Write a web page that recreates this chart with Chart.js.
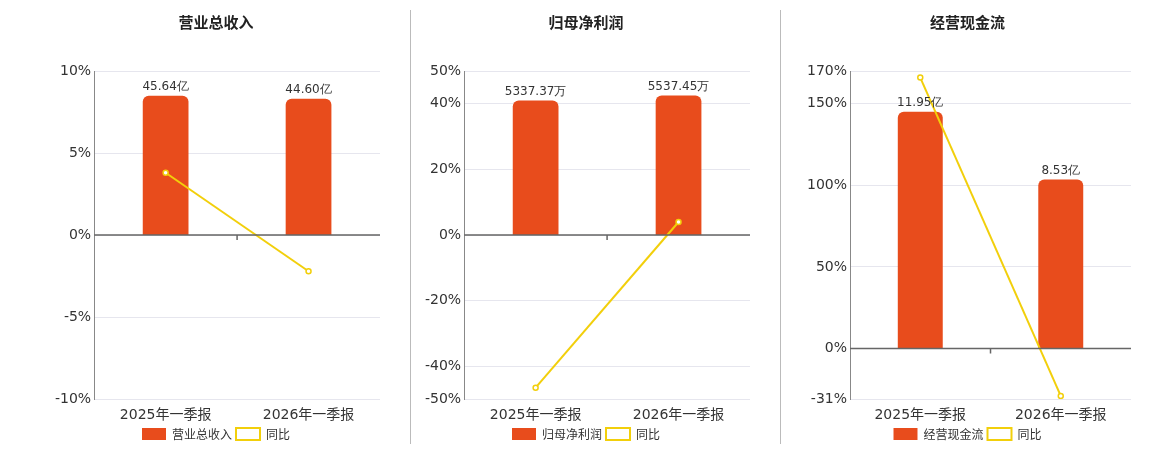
<!DOCTYPE html>
<html><head><meta charset="utf-8">
<script src="https://cdn.jsdelivr.net/npm/chart.js@4/dist/chart.umd.min.js"></script>
<style>
body{margin:0;background:#fff;font-family:"Noto Sans CJK SC","Noto Sans",sans-serif;}
.p{position:absolute;top:0;height:450px;}
.sep{position:absolute;top:10px;height:434px;width:1px;background:#bbb;}
</style></head><body>
<div class="p" style="left:0;width:405px"><canvas id="c0"></canvas></div>
<div class="sep" style="left:410px"></div>
<div class="p" style="left:411px;width:369px"><canvas id="c1"></canvas></div>
<div class="sep" style="left:780px"></div>
<div class="p" style="left:781px;width:375px"><canvas id="c2"></canvas></div>
<script>
const categories=["2025年一季报","2026年一季报"];
const titles=["营业总收入","归母净利润","经营现金流"];
const barValues0=[45.64,44.60];
const barValues1=[5337.37,5537.45];
const barValues2=[11.95,8.53];
const barLabels0=["45.64亿","44.60亿"];
const barLabels1=["5337.37万","5537.45万"];
const barLabels2=["11.95亿","8.53亿"];
const yoy0=[3.8,-2.2];
const yoy1=[-46.5,4.0];
const yoy2=[166,-29];
const ticks0=[-10,-5,0,5,10];
const ticks1=[-50,-40,-20,0,20,40,50];
const ticks2=[-31,0,50,100,150,170];
const cfgs=[
 {bars:barValues0,labels:barLabels0,yoy:yoy0,ticks:ticks0,min:-10,max:10,k:5.37,padL:52,padR:25},
 {bars:barValues1,labels:barLabels1,yoy:yoy1,ticks:ticks1,min:-50,max:50,k:130.2,padL:11,padR:30},
 {bars:barValues2,labels:barLabels2,yoy:yoy2,ticks:ticks2,min:-31,max:170,k:0.0824,padL:23,padR:25}
];
const orange='#e84c1c', yellow='#f2cf0b';
const labelPlugin={id:'lbl',afterDatasetsDraw(ch){
 const c=ch.ctx, m=ch.getDatasetMeta(0), L=ch.options.plugins.lbl.labels;
 c.save();c.font='12px "DejaVu Sans"';c.fillStyle='#333';c.textAlign='center';c.textBaseline='bottom';
 m.data.forEach((b,i)=>c.fillText(L[i],b.x,b.y-3));
 const y=ch.scales.y.getPixelForValue(0), a=ch.chartArea;
 c.strokeStyle='#666';c.lineWidth=1.5;c.beginPath();c.moveTo(a.left,y);c.lineTo(a.right,y);
 const mid=(a.left+a.right)/2;c.moveTo(mid,y);c.lineTo(mid,y+5);c.stroke();c.restore();
}};
cfgs.forEach((g,i)=>{
 new Chart(document.getElementById('c'+i),{
  data:{labels:categories,datasets:[
   {type:'bar',label:titles[i],data:g.bars,yAxisID:'y1',backgroundColor:orange,borderRadius:{topLeft:6,topRight:6},borderSkipped:'bottom',barPercentage:0.32,categoryPercentage:1,order:2},
   {type:'line',label:'同比',data:g.yoy,yAxisID:'y',borderColor:yellow,backgroundColor:'#fff',borderWidth:2,pointRadius:2.5,pointBorderWidth:1.5,pointBorderColor:yellow,pointBackgroundColor:'#fff',order:1}
  ]},
  options:{responsive:true,maintainAspectRatio:false,animation:false,
   layout:{padding:{left:g.padL,right:g.padR,top:5,bottom:0}},
   plugins:{title:{display:true,text:titles[i],font:{size:15,weight:'bold',family:'"Noto Sans CJK SC"'},color:'#222',padding:{top:8,bottom:40}},
    legend:{position:'bottom',labels:{boxWidth:24,boxHeight:12,padding:4,sort:(a,b)=>a.datasetIndex-b.datasetIndex,font:{size:12,family:'"Noto Sans CJK SC"'},color:'#333'}},
    tooltip:{enabled:false},lbl:{labels:g.labels}},
   scales:{
    x:{grid:{display:false},border:{display:false},ticks:{font:{size:14,family:'"DejaVu Sans","Noto Sans CJK SC"'},color:'#333',padding:0}},
    y:{min:g.min,max:g.max,afterBuildTicks(s){s.ticks=g.ticks.map(v=>({value:v}));},
     ticks:{callback:v=>v+'%',font:{size:14,family:'"DejaVu Sans"'},color:'#333'},grid:{color:'#e6e6ee',drawTicks:false},border:{display:true,color:'#888'}},
    y1:{display:false,min:g.min*g.k,max:g.max*g.k}
   }}
  ,plugins:[labelPlugin]});
});
</script></body></html>
